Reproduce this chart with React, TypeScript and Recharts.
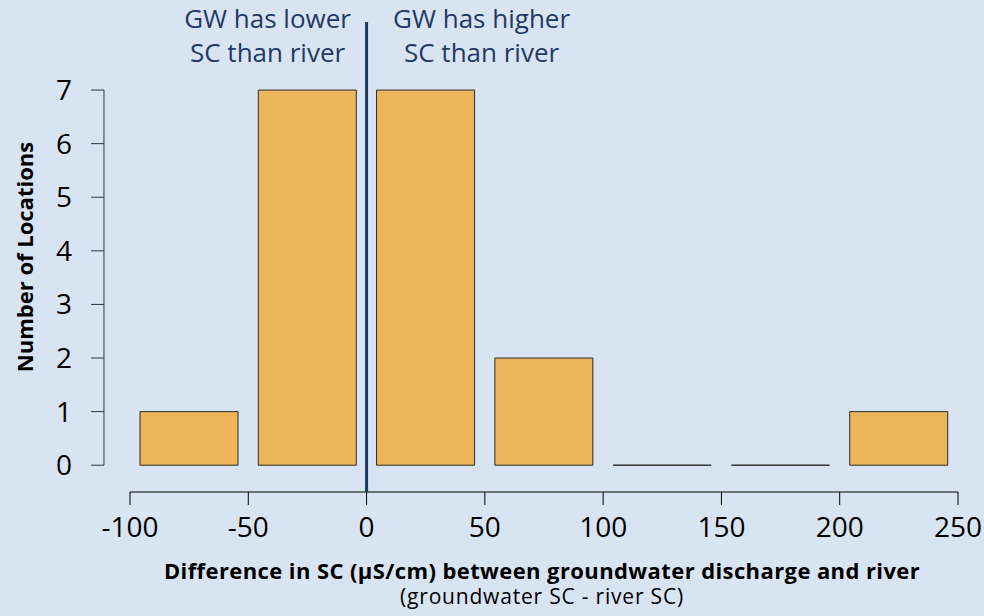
import React from 'react';
import {
    ComposedChart,
    Bar,
    XAxis,
    YAxis,
    ReferenceLine,
} from 'recharts';

// histogram bins (centre of each 50 µS/cm bin) and number of locations
const binCenters = [-75, -25, 25, 75, 125, 175, 225];
const counts = [1, 7, 7, 2, 0, 0, 1];
const xTicks = [-100, -50, 0, 50, 100, 150, 200, 250];
const yTicks = [0, 1, 2, 3, 4, 5, 6, 7];

const leftNote = ['GW has lower', 'SC than river'];
const rightNote = ['GW has higher', 'SC than river'];

const data = binCenters.map((x, i) => ({ x, count: counts[i] }));

const NAVY = '#1f3a63';
const FONT = '"Open Sans", sans-serif';

// path instead of rect so that empty bins still show their outline
const HistBar = (props: any) => {
    const { x, y, width, height } = props;
    const h = Math.max(height || 0, 0);
    return (
        <path
            d={`M${x},${y} h${width} v${h} h${-width} Z`}
            fill="#edb55a"
            stroke="#2b2b2b"
            strokeWidth={1}
        />
    );
};

const ZeroLineLabel = (props: any) => {
    const { viewBox } = props;
    const cx = viewBox.x;
    return (
        <g fontFamily={FONT} fontSize={26} fill={NAVY}>
            {leftNote.map((t, i) => (
                <text key={'l' + i} x={cx - 99} y={28 + i * 34} textAnchor="middle" fill={NAVY}>{t}</text>
            ))}
            {rightNote.map((t, i) => (
                <text key={'r' + i} x={cx + 115} y={28 + i * 34} textAnchor="middle" fill={NAVY}>{t}</text>
            ))}
        </g>
    );
};

const YTitle = (props: any) => {
    const { viewBox } = props;
    const x = viewBox.x - 20;
    const y = viewBox.y + viewBox.height / 2;
    return (
        <text
            x={x}
            y={y}
            transform={`rotate(-90, ${x}, ${y})`}
            textAnchor="middle"
            dominantBaseline="central"
            fontFamily={FONT}
            fontWeight="bold"
            fontSize={22}
            fill="#000"
        >
            Number of Locations
        </text>
    );
};

const XTitle = (props: any) => {
    const { viewBox } = props;
    const cx = viewBox.x + 26 + (viewBox.width - 26) / 2 - 2;
    return (
        <g fontFamily={FONT} fill="#000">
            <text x={cx} y={viewBox.y + 87} textAnchor="middle" fontWeight="bold" fontSize={22} letterSpacing={0.4}>
                Difference in SC (µS/cm) between groundwater discharge and river
            </text>
            <text x={cx} y={viewBox.y + 112} textAnchor="middle" fontSize={21} letterSpacing={0.8}>
                (groundwater SC - river SC)
            </text>
        </g>
    );
};

export default function App() {
    return (
        <div style={{ position: 'absolute', left: 0, top: 0, width: 984, height: 616, background: '#d9e4f3', fontFamily: FONT }}>
            <ComposedChart
                width={984}
                height={616}
                data={data}
                margin={{ top: 22, right: 26, bottom: 64, left: 44 }}
            >
                <XAxis
                    dataKey="x"
                    type="number"
                    domain={[-100, 250]}
                    ticks={xTicks}
                    padding={{ left: 26, right: 0 }}
                    axisLine={false}
                    tickLine={{ stroke: '#000' }}
                    tickSize={13}
                    tickMargin={12}
                    tick={{ fill: '#000', fontSize: 28, fontFamily: FONT }}
                    height={60}
                    interval={0}
                    label={<XTitle />}
                />
                <YAxis
                    type="number"
                    domain={[-0.5, 8.27]}
                    ticks={yTicks}
                    allowDataOverflow
                    axisLine={false}
                    tickLine={{ stroke: '#333' }}
                    tickSize={13}
                    tickMargin={19}
                    tick={{ fill: '#000', fontSize: 28, fontFamily: FONT }}
                    width={60}
                    interval={0}
                    label={<YTitle />}
                />
                <Bar dataKey="count" barSize={98} shape={<HistBar />} isAnimationActive={false} />
                {/* R-style detached axis lines spanning only the tick range */}
                <ReferenceLine
                    segment={[{ x: -111, y: 0 }, { x: -111, y: 7 }]}
                    stroke="#333"
                    strokeWidth={1}
                    ifOverflow="visible"
                />
                <ReferenceLine
                    segment={[{ x: -100, y: -0.5 }, { x: 250, y: -0.5 }]}
                    stroke="#000"
                    strokeWidth={1}
                    ifOverflow="visible"
                />
                <ReferenceLine x={0} stroke={NAVY} strokeWidth={3} label={<ZeroLineLabel />} />
            </ComposedChart>
        </div>
    );
}
